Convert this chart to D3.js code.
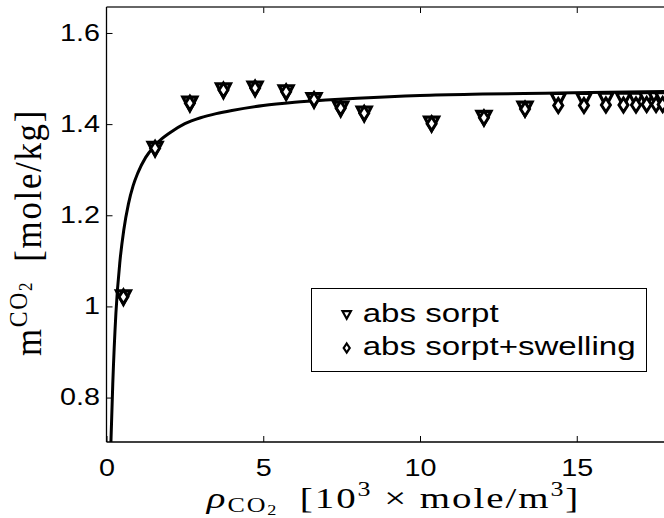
<!DOCTYPE html>
<html>
<head>
<meta charset="utf-8">
<script src="https://cdn.jsdelivr.net/npm/d3@7"></script>
<style>
  html, body { margin: 0; padding: 0; background: #fff; }
  svg { display: block; overflow: hidden; }
</style>
</head>
<body>
<svg id="chart" width="664" height="518"></svg>
<script>
// CO2 density [10^3 mole/m^3] of each measurement
const density = [0.54, 1.55, 2.66, 3.73, 4.74, 5.73, 6.62, 7.47, 8.22, 10.37, 12.04, 13.35,
                 14.41, 15.23, 15.93, 16.49, 16.89, 17.23, 17.53, 17.74];
// absolute sorption [mole/kg]
const absSorpt = [1.021, 1.347, 1.446, 1.475, 1.479, 1.471, 1.454, 1.435, 1.424, 1.402, 1.415, 1.435,
                  1.454, 1.454, 1.455, 1.455, 1.455, 1.456, 1.456, 1.456];
// absolute sorption corrected for swelling [mole/kg]
const absSorptSwelling = [1.021, 1.347, 1.446, 1.475, 1.479, 1.471, 1.454, 1.435, 1.424, 1.401, 1.414, 1.433,
                          1.441, 1.441, 1.442, 1.442, 1.442, 1.443, 1.443, 1.443];
// fitted isotherm
const fitRho = [0.14, 0.2, 0.3, 0.43, 0.55, 0.7, 0.85, 1.0, 1.25, 1.5, 1.75, 2.0, 2.5, 3.0, 3.5, 4.0,
                5.0, 6.0, 7.0, 8.0, 10, 12, 14, 16, 18];
const fitM   = [0.700, 0.830, 0.985, 1.100, 1.167, 1.225, 1.265, 1.293, 1.327, 1.350, 1.367, 1.380, 1.401,
                1.414, 1.423, 1.430, 1.441, 1.448, 1.453, 1.457, 1.463, 1.466, 1.468, 1.470, 1.472];

const xTicks = [0, 5, 10, 15];
const yTicks = [0.8, 1, 1.2, 1.4, 1.6];
const legendLabels = ["abs sorpt", "abs sorpt+swelling"];

const SANS = "'Liberation Sans', Arial, Helvetica, sans-serif";
const SERIF = "'Liberation Serif', 'Times New Roman', serif";
const SX = 1.25; // horizontal glyph stretch of the figure

const svg = d3.select("#chart");
const plotLeft = 106.5, plotBottom = 442, plotTop = 7;
const x = d3.scaleLinear().domain([0, 18]).range([plotLeft, plotLeft + 18 * 31.35]);
const y = d3.scaleLinear().domain([0.7025, 1.657]).range([plotBottom, plotTop]);

svg.append("rect").attr("width", 664).attr("height", 518).attr("fill", "#fff");

svg.append("defs").append("clipPath").attr("id", "plotClip")
  .append("rect").attr("x", plotLeft).attr("y", plotTop)
  .attr("width", x.range()[1] - plotLeft).attr("height", plotBottom - plotTop);

// x axis (ticks pointing inward)
const gx = svg.append("g").attr("transform", `translate(0,${plotBottom})`)
  .call(d3.axisBottom(x).tickValues(xTicks).tickSizeInner(-6).tickSizeOuter(0)
        .tickPadding(34).tickFormat(d3.format("d")));
gx.select(".domain").remove();
gx.selectAll(".tick line").attr("stroke", "#000");
gx.selectAll(".tick text").attr("font-family", SANS).attr("font-size", 23).attr("fill", "#000")
  .attr("dy", null).attr("transform", `scale(${SX},1)`);

// top ticks
const gt = svg.append("g").attr("transform", `translate(0,${plotTop})`)
  .call(d3.axisTop(x).tickValues(xTicks.filter(d => d > 0)).tickSizeInner(-6).tickSizeOuter(0).tickFormat(""));
gt.select(".domain").remove();
gt.selectAll(".tick line").attr("stroke", "#000");

// y axis
const gy = svg.append("g").attr("transform", `translate(${plotLeft},0)`)
  .call(d3.axisLeft(y).tickValues(yTicks).tickSizeInner(-6).tickSizeOuter(0)
        .tickPadding(6.5).tickFormat(d => d3.format("~g")(d)));
gy.select(".domain").remove();
gy.selectAll(".tick line").attr("stroke", "#000");
gy.selectAll(".tick text").attr("font-family", SANS).attr("font-size", 23).attr("fill", "#000")
  .attr("x", -6.5 / SX).attr("transform", `scale(${SX},1)`);

// frame
svg.append("line").attr("x1", plotLeft).attr("x2", 664).attr("y1", plotTop).attr("y2", plotTop)
  .attr("stroke", "#333").attr("stroke-width", 1.6);
svg.append("line").attr("x1", plotLeft).attr("x2", 664).attr("y1", plotBottom).attr("y2", plotBottom)
  .attr("stroke", "#000").attr("stroke-width", 1.4);
svg.append("line").attr("x1", plotLeft).attr("x2", plotLeft).attr("y1", plotTop).attr("y2", plotBottom)
  .attr("stroke", "#000").attr("stroke-width", 1.3);

// fitted curve
const fit = fitRho.map((r, i) => ({ r, m: fitM[i] }));
svg.append("path").datum(fit)
  .attr("clip-path", "url(#plotClip)")
  .attr("fill", "none").attr("stroke", "#000").attr("stroke-width", 3)
  .attr("d", d3.line().x(d => x(d.r)).y(d => y(d.m)).curve(d3.curveMonotoneX));

// marker shapes
const tri = (hw, up, down) => `M${-hw},${-up}L${hw},${-up}L0,${down}Z`;
const dia = (hw, hh) => `M0,${-hh}L${hw},0L0,${hh}L${-hw},0Z`;

const pts = svg.append("g").attr("clip-path", "url(#plotClip)");
pts.selectAll("path.tri").data(density).join("path").attr("class", "tri")
  .attr("transform", (d, i) => `translate(${x(d)},${y(absSorpt[i])})`)
  .attr("d", tri(7, 6, 7.5))
  .attr("fill", "#fff").attr("stroke", "#000").attr("stroke-width", 3.2).attr("stroke-linejoin", "miter");
pts.selectAll("path.dia").data(density).join("path").attr("class", "dia")
  .attr("transform", (d, i) => `translate(${x(d)},${y(absSorptSwelling[i])})`)
  .attr("d", dia(4.5, 7))
  .attr("fill", "#fff").attr("stroke", "#000").attr("stroke-width", 3);

// legend
const lg = svg.append("g");
lg.append("rect").attr("x", 311.5).attr("y", 288.5).attr("width", 335).attr("height", 83)
  .attr("fill", "#fff").attr("stroke", "#000").attr("stroke-width", 1);
lg.append("path").attr("transform", "translate(346.7,314.5)").attr("d", tri(4.2, 3.3, 4.2))
  .attr("fill", "#fff").attr("stroke", "#000").attr("stroke-width", 2.2);
lg.append("path").attr("transform", "translate(346.7,348)").attr("d", dia(3, 4.5))
  .attr("fill", "#fff").attr("stroke", "#000").attr("stroke-width", 2.2);
const legendTexts = legendLabels.map((t, i) =>
  lg.append("text").attr("font-family", SANS).attr("font-size", 25).attr("fill", "#000").text(t));
// widest entry spans from 362.7 to 636
const legendScale = 273 / d3.max(legendTexts, s => s.node().getComputedTextLength());
legendTexts.forEach((s, i) =>
  s.attr("transform", `translate(362.7,${322 + i * 33.3}) scale(${legendScale},1)`));

// axis titles
const xl = svg.append("text").attr("font-family", SERIF).attr("font-size", 30).attr("fill", "#000")
  .attr("letter-spacing", 1.5).attr("text-anchor", "middle");
xl.append("tspan").attr("font-style", "italic").text("ρ");
xl.append("tspan").attr("font-size", 20).attr("dy", 4).text("CO");
xl.append("tspan").attr("font-size", 14).attr("dy", 3).text("2");
xl.append("tspan").attr("dy", -7).text("\u2002[10");
xl.append("tspan").attr("font-size", 20).attr("dy", -12).text("3");
xl.append("tspan").attr("dy", 12).text(" × mole/m");
xl.append("tspan").attr("font-size", 20).attr("dy", -12).text("3");
xl.append("tspan").attr("dy", 12).text("]");
const xlScale = 375 / xl.node().getBBox().width;
xl.attr("transform", `translate(393.5,508) scale(${xlScale},1)`);

const yl = svg.append("text").attr("font-family", SERIF).attr("font-size", 31).attr("fill", "#000")
  .attr("letter-spacing", 1.5).attr("text-anchor", "middle");
yl.append("tspan").text("m");
yl.append("tspan").attr("font-size", 21).attr("dy", -11).text("CO");
yl.append("tspan").attr("font-size", 15).attr("dy", 4).text("2");
yl.append("tspan").attr("dy", 7).text("\u2002[mole/kg]");
const ylLen = 247 / yl.node().getBBox().width;
yl.attr("transform", `translate(41,232.5) rotate(-90) scale(${ylLen},${SX})`);
</script>
</body>
</html>
